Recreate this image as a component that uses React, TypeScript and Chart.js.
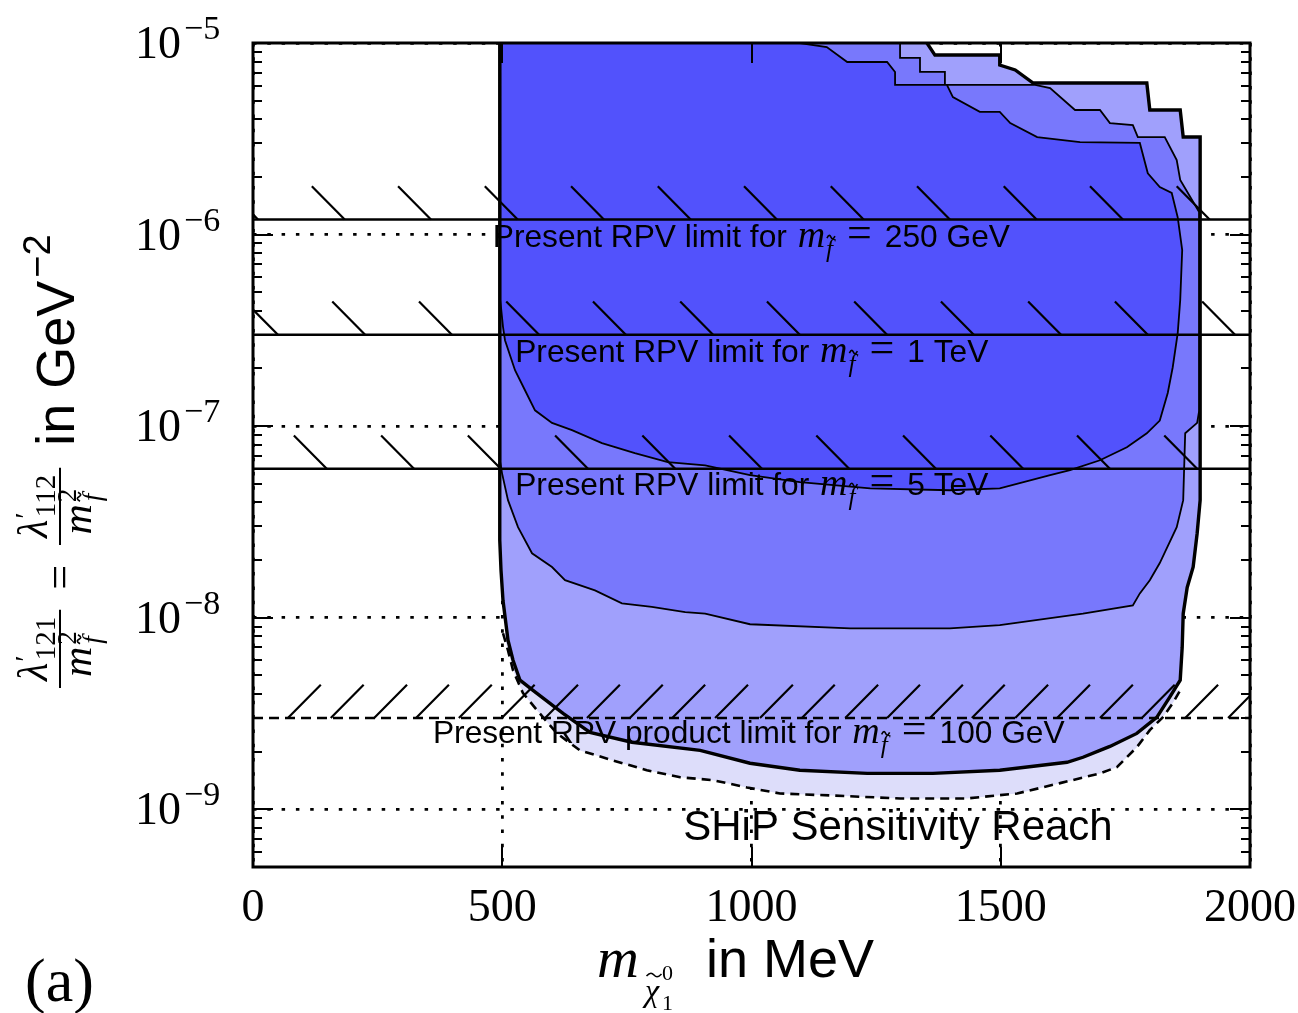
import React, { useEffect, useRef } from 'react';
import { Chart, registerables } from 'chart.js';

Chart.register(...registerables);

// ---------- axes ----------
const X_MIN = 0;
const X_MAX = 2000;
const Y_MIN = 5e-10;
const Y_MAX = 1e-5;
const X_TICKS = [0, 500, 1000, 1500, 2000];
const Y_TICKS = [1e-9, 1e-8, 1e-7, 1e-6, 1e-5];
const Y_TICK_EXP = ['\u22129', '\u22128', '\u22127', '\u22126', '\u22125'];

// ---------- sensitivity contours [m (MeV), lambda/m^2 (GeV^-2)] ----------
// outermost dashed contour (palest band)
const DASHED_EDGE: [number, number][] = [
  [501.5, 8.3e-9], [511.5, 6.76e-9], [521.6, 5.32e-9], [541.6, 4.04e-9], [569.7, 3.29e-9],
  [609.8, 2.49e-9], [656, 2.03e-9], [722, 1.8e-9], [790, 1.6e-9], [857, 1.47e-9],
  [923, 1.42e-9], [991, 1.3e-9], [1057, 1.21e-9], [1163, 1.18e-9], [1298, 1.14e-9],
  [1432, 1.14e-9], [1533, 1.21e-9], [1619, 1.37e-9], [1699, 1.54e-9], [1733, 1.66e-9],
  [1773, 2.11e-9], [1799, 2.59e-9], [1825, 3.02e-9], [1845, 3.58e-9], [1860, 4.18e-9],
];

// thick solid contour (light band)
const OUTER_EDGE: [number, number][] = [
  [495, 1e-5], [495, 2.54e-8], [497.5, 1.77e-8], [501.5, 1.23e-8], [511.5, 7.64e-9],
  [521.6, 6.0e-9], [535.6, 4.72e-9], [561.7, 4.18e-9], [621.9, 3.17e-9], [676, 2.52e-9],
  [760, 2.24e-9], [897, 2.03e-9], [997, 1.74e-9], [1097, 1.6e-9], [1232, 1.54e-9],
  [1364, 1.54e-9], [1498, 1.6e-9], [1633, 1.76e-9], [1665, 1.87e-9], [1699, 2.03e-9],
  [1719, 2.13e-9], [1773, 2.49e-9], [1813, 3.02e-9], [1839, 3.85e-9], [1860, 4.72e-9],
  [1864, 7.02e-9], [1866, 1.05e-8], [1874, 1.44e-8], [1886, 1.84e-8], [1894, 2.76e-8],
  [1900, 4.11e-8], [1900, 3.23e-6], [1866, 3.23e-6], [1860, 4.47e-6], [1799, 4.47e-6],
  [1793, 6.18e-6], [1565, 6.18e-6], [1529, 7.23e-6], [1498, 7.67e-6], [1498, 8.65e-6],
  [1368, 8.65e-6], [1352, 1e-5],
];

// middle contour (medium band)
const MIDDLE_EDGE: [number, number][] = [
  [496, 1e-5], [496, 6.5e-8], [499.5, 5.69e-8], [511.5, 4.11e-8], [531.6, 2.97e-8],
  [559.7, 2.17e-8], [599.8, 1.84e-8], [625.9, 1.57e-8], [686, 1.39e-8], [740, 1.19e-8],
  [800, 1.14e-8], [867, 1.07e-8], [907, 1.05e-8], [997, 9.25e-9], [1198, 8.81e-9],
  [1398, 8.81e-9], [1498, 9.14e-9], [1665, 1.05e-8], [1765, 1.16e-8], [1779, 1.34e-8],
  [1799, 1.57e-8], [1819, 1.93e-8], [1853, 2.97e-8], [1866, 4.11e-8], [1870, 9.18e-8],
  [1894, 1.04e-7], [1898, 1.2e-7], [1898, 1.31e-6], [1860, 1.93e-6], [1853, 2.45e-6],
  [1829, 3.23e-6], [1775, 3.23e-6], [1765, 3.73e-6], [1719, 3.82e-6], [1699, 4.47e-6],
  [1649, 4.47e-6], [1599, 5.82e-6], [1569, 6.04e-6], [1388, 6.04e-6], [1388, 7.06e-6],
  [1338, 7.06e-6], [1338, 8.36e-6], [1298, 8.36e-6], [1298, 1e-5],
];

// inner contour (dark band)
const INNER_EDGE: [number, number][] = [
  [496, 1e-5], [496, 4.55e-7], [501.5, 3.3e-7], [505.5, 2.81e-7], [525.6, 1.96e-7],
  [545.6, 1.54e-7], [565.7, 1.21e-7], [599.8, 1.04e-7], [639.9, 9.53e-8], [700, 8.15e-8],
  [766, 7.23e-8], [832, 6.49e-8], [907, 6.25e-8], [997, 5.55e-8], [1097, 5.1e-8],
  [1238, 4.74e-8], [1398, 4.63e-8], [1498, 4.74e-8], [1599, 5.55e-8], [1639, 5.89e-8],
  [1699, 6.64e-8], [1753, 7.76e-8], [1793, 9.18e-8], [1819, 1.07e-7], [1835, 1.49e-7],
  [1845, 2.03e-7], [1855, 3.06e-7], [1860, 4.55e-7], [1864, 8.3e-7], [1855, 1.23e-6],
  [1843, 1.65e-6], [1819, 1.77e-6], [1795, 2.09e-6], [1779, 3.01e-6], [1659, 3.04e-6],
  [1573, 3.23e-6], [1519, 3.82e-6], [1498, 4.37e-6], [1458, 4.37e-6], [1404, 5.22e-6],
  [1392, 6.04e-6], [1288, 6.04e-6], [1288, 7.06e-6], [1272, 7.96e-6], [1192, 7.96e-6],
  [1151, 9.53e-6], [1097, 1e-5],
];

// ---------- present limits ----------
const LIMIT_250GEV = 1.2e-6;
const LIMIT_1TEV = 3.0e-7;
const LIMIT_5TEV = 6.0e-8;
const LIMIT_PRODUCT_100GEV = 3.0e-9;

// x positions (MeV) where hatch strokes touch each limit line
const HATCH_250GEV = [10, 184, 357, 531, 704, 878, 1051, 1225, 1398, 1572, 1745, 1919];
const HATCH_1TEV = [50, 225, 399, 574, 748, 923, 1097, 1272, 1446, 1621, 1795, 1970];
const HATCH_5TEV = [148, 323, 497, 672, 847, 1021, 1196, 1370, 1545, 1719, 1894];
const HATCH_PRODUCT = [70, 156, 243, 327, 413, 499, 586, 670, 756, 841, 927, 1017, 1101, 1188,
  1272, 1358, 1442, 1529, 1613, 1699, 1783, 1870, 1956];

// ---------- annotations ----------
const ANNOT_PREFIX = ['Present RPV limit for ', 'Present RPV limit for ', 'Present RPV limit for ',
  'Present RPV product limit for '];
const ANNOT_SUFFIX = ['250 GeV', '1 TeV', '5 TeV', '100 GeV'];
const ANNOT_X = [481, 526, 526, 361];
const ANNOT_Y = [8.6e-7, 2.16e-7, 4.37e-8, 2.21e-9];
const SHIP_TEXT = 'SHiP Sensitivity Reach';
const SHIP_X = 863;
const SHIP_Y = 6.9e-10;

// ---------- style ----------
const COL_PALEST = 'rgb(221,221,250)';
const COL_LIGHT = 'rgb(160,160,252)';
const COL_MEDIUM = 'rgb(120,120,252)';
const COL_DARK = 'rgb(82,82,252)';
const SANS = '"Liberation Sans", Arial, Helvetica, sans-serif';
const SERIF = '"Liberation Serif", "Times New Roman", serif';
const HATCH_DX = 66; // MeV
const HATCH_FY = 1.49; // factor in y
const GRID_DASH = [3.5, 10.8];

const sans = (s: number) => `${s}px ${SANS}`;
const serif = (s: number) => `${s}px ${SERIF}`;
const serifI = (s: number) => `italic ${s}px ${SERIF}`;

type Part = { t: string; f: string; dy?: number; dx?: number; adv?: boolean };

function rich(ctx: CanvasRenderingContext2D, x: number, y: number, parts: Part[]) {
  let cx = x;
  for (const p of parts) {
    ctx.font = p.f;
    ctx.fillText(p.t, cx + (p.dx || 0), y + (p.dy || 0));
    if (p.adv !== false) cx += ctx.measureText(p.t).width + (p.dx || 0);
  }
  return cx;
}

function width(ctx: CanvasRenderingContext2D, parts: Part[]) {
  let w = 0;
  for (const p of parts) {
    ctx.font = p.f;
    if (p.adv !== false) w += ctx.measureText(p.t).width + (p.dx || 0);
  }
  return w;
}

// small tilde drawn above a glyph (centre cx, vertical position y)
function tilde(ctx: CanvasRenderingContext2D, cx: number, y: number, w: number) {
  ctx.save();
  ctx.lineWidth = 1.6;
  ctx.beginPath();
  ctx.moveTo(cx - w / 2, y + 1);
  ctx.bezierCurveTo(cx - w / 4, y - 3, cx - w / 8, y - 2, cx, y);
  ctx.bezierCurveTo(cx + w / 8, y + 2, cx + w / 4, y + 3, cx + w / 2, y - 1);
  ctx.stroke();
  ctx.restore();
}

// m with subscript f-tilde, returns end x
function mSubF(ctx: CanvasRenderingContext2D, x: number, y: number, mSize: number, sSize: number) {
  ctx.font = serifI(mSize);
  ctx.fillText('m', x, y);
  const mw = ctx.measureText('m').width;
  const sx = x + mw + 1;
  const sy = y + sSize * 0.4;
  ctx.font = serifI(sSize);
  ctx.fillText('f', sx, sy);
  const fw = ctx.measureText('f').width;
  tilde(ctx, sx + fw * 0.7, sy - sSize * 0.8, Math.max(fw, 8));
  return sx + fw + 2;
}

function drawFraction(ctx: CanvasRenderingContext2D, u: number, sub: string) {
  const num: Part[] = [
    { t: '\u03bb', f: serifI(42) },
    { t: '\u2032', f: serif(30), dy: -12, dx: 1 },
    { t: sub, f: serif(29), dy: 8, dx: -5 },
  ];
  const wn = width(ctx, num);
  ctx.font = serifI(42);
  const mW = ctx.measureText('m').width;
  const wd = mW + 26;
  const w = Math.max(wn, wd) + 14;
  rich(ctx, u + (w - wn) / 2, -27, num);
  ctx.lineWidth = 2;
  ctx.beginPath();
  ctx.moveTo(u, -14);
  ctx.lineTo(u + w, -14);
  ctx.stroke();
  const dx0 = u + (w - wd) / 2;
  ctx.font = serifI(42);
  ctx.fillText('m', dx0, 17);
  ctx.font = serif(27);
  ctx.fillText('2', dx0 + mW + 2, 2);
  ctx.font = serifI(27);
  ctx.fillText('f', dx0 + mW + 3, 27);
  const fw = ctx.measureText('f').width;
  tilde(ctx, dx0 + mW + 3 + fw * 0.6, 27 - 22, Math.max(fw, 9));
  return u + w;
}

const decorPlugin = {
  id: 'decor',
  afterDraw(chart: any) {
    const { ctx, chartArea: a, scales } = chart;
    const xs = scales.x;
    const ys = scales.y;
    ctx.save();
    ctx.strokeStyle = '#000';
    ctx.fillStyle = '#000';

    // inner minor/major ticks
    ctx.lineWidth = 2;
    const seg = (x1: number, y1: number, x2: number, y2: number) => {
      ctx.beginPath();
      ctx.moveTo(x1, y1);
      ctx.lineTo(x2, y2);
      ctx.stroke();
    };
    for (let e = -10; e <= -5; e++) {
      for (let m = 1; m <= 9; m++) {
        const v = m * Math.pow(10, e);
        if (v < Y_MIN * 0.999 || v > Y_MAX * 1.001) continue;
        const py = Math.round(ys.getPixelForValue(v));
        const len = m === 1 ? 20 : 9;
        seg(a.left, py, a.left + len, py);
        seg(a.right, py, a.right - len, py);
      }
    }
    for (const xv of X_TICKS) {
      const px = Math.round(xs.getPixelForValue(xv));
      seg(px, a.bottom, px, a.bottom - 20);
      seg(px, a.top, px, a.top + 20);
    }

    // frame
    ctx.lineWidth = 3;
    ctx.strokeRect(a.left, a.top, a.right - a.left, a.bottom - a.top);

    // y tick labels 10^n
    ctx.textBaseline = 'alphabetic';
    ctx.textAlign = 'left';
    Y_TICKS.forEach((v, i) => {
      const py = ys.getPixelForValue(v);
      ctx.font = serif(46);
      const w10 = ctx.measureText('10').width;
      ctx.fillText('10', 181 - w10, py + 15);
      ctx.font = serif(34);
      ctx.fillText(Y_TICK_EXP[i], 184, py - 4);
    });

    // annotation labels
    ANNOT_PREFIX.forEach((pre, i) => {
      const px = xs.getPixelForValue(ANNOT_X[i]);
      const py = ys.getPixelForValue(ANNOT_Y[i]);
      let cx = rich(ctx, px, py, [{ t: pre, f: sans(31.7) }]);
      cx = mSubF(ctx, cx + 2, py, 38, 25);
      cx = rich(ctx, cx + 12, py, [{ t: '=', f: serif(44) }]);
      rich(ctx, cx + 13, py, [{ t: ANNOT_SUFFIX[i], f: sans(31.7) }]);
    });
    ctx.font = sans(42);
    ctx.fillText(SHIP_TEXT, xs.getPixelForValue(SHIP_X), ys.getPixelForValue(SHIP_Y));

    // x axis title
    rich(ctx, 597, 977, [{ t: 'm', f: serifI(58) }]);
    ctx.font = serifI(32);
    ctx.fillText('\u03c7', 645, 1001);
    tilde(ctx, 654, 975, 15);
    rich(ctx, 662, 980, [{ t: '0', f: serif(22) }]);
    rich(ctx, 662, 1010, [{ t: '1', f: serif(22) }]);
    rich(ctx, 706, 977, [{ t: 'in MeV', f: sans(54) }]);

    // (a)
    rich(ctx, 25, 1001, [{ t: '(a)', f: serif(62) }]);

    // y axis title (rotated)
    ctx.save();
    ctx.translate(74, 688);
    ctx.rotate(-Math.PI / 2);
    let u = drawFraction(ctx, 0, '121');
    u += 20;
    ctx.font = serif(44);
    ctx.fillText('=', u, 0);
    u += ctx.measureText('=').width + 20;
    u = drawFraction(ctx, u, '112');
    u += 22;
    u = rich(ctx, u, 0, [{ t: 'in GeV', f: sans(54) }]);
    rich(ctx, u + 3, -24, [{ t: '\u22122', f: sans(38) }]);
    ctx.restore();

    ctx.restore();
  },
};

const pts = (arr: [number, number][]) => arr.map(([x, y]) => ({ x, y }));

function hatchBack(xsArr: number[], v: number) {
  const out: any[] = [];
  xsArr.forEach((xe) => {
    out.push({ x: xe - HATCH_DX, y: v * HATCH_FY }, { x: xe, y: v }, { x: xe, y: null });
  });
  return out;
}
function hatchFwd(xsArr: number[], v: number) {
  const out: any[] = [];
  xsArr.forEach((xs0) => {
    out.push({ x: xs0, y: v }, { x: xs0 + HATCH_DX, y: v * HATCH_FY }, { x: xs0, y: null });
  });
  return out;
}

const NONE = 'rgba(0,0,0,0)';

export default function App() {
  const ref = useRef<HTMLCanvasElement | null>(null);
  useEffect(() => {
    if (!ref.current) return;
    const limitLine = (v: number, label: string, dash: number[] = []) => ({
      label,
      data: [{ x: X_MIN, y: v }, { x: X_MAX, y: v }],
      borderColor: '#000',
      borderWidth: 2.5,
      borderDash: dash,
      fill: false,
      order: 4,
    });
    const hatch = (data: any[], label: string) => ({
      label,
      data,
      borderColor: '#000',
      borderWidth: 2.2,
      fill: false,
      spanGaps: false,
      order: 3,
    });
    const chart = new Chart(ref.current, {
      type: 'line',
      data: {
        datasets: [
          { label: 'reach (outer dashed)', data: pts(DASHED_EDGE), fill: 'shape', backgroundColor: COL_PALEST, borderColor: NONE, borderWidth: 0, order: 10 },
          { label: 'reach (outer)', data: pts(OUTER_EDGE), fill: 'shape', backgroundColor: COL_LIGHT, borderColor: NONE, borderWidth: 0, order: 9 },
          { label: 'reach (middle)', data: pts(MIDDLE_EDGE), fill: 'shape', backgroundColor: COL_MEDIUM, borderColor: '#000', borderWidth: 1.8, order: 8 },
          { label: 'reach (inner)', data: pts(INNER_EDGE), fill: 'shape', backgroundColor: COL_DARK, borderColor: '#000', borderWidth: 1.8, order: 7 },
          { label: 'dashed edge', data: pts(DASHED_EDGE), fill: false, borderColor: '#000', borderWidth: 2.6, borderDash: [9, 6], order: 6 },
          { label: 'outer edge', data: pts(OUTER_EDGE), fill: false, borderColor: '#000', borderWidth: 3.4, order: 5 },
          limitLine(LIMIT_250GEV, '250 GeV'),
          limitLine(LIMIT_1TEV, '1 TeV'),
          limitLine(LIMIT_5TEV, '5 TeV'),
          limitLine(LIMIT_PRODUCT_100GEV, 'product 100 GeV', [10, 6]),
          hatch(hatchBack(HATCH_250GEV, LIMIT_250GEV), 'h250'),
          hatch(hatchBack(HATCH_1TEV, LIMIT_1TEV), 'h1'),
          hatch(hatchBack(HATCH_5TEV, LIMIT_5TEV), 'h5'),
          hatch(hatchFwd(HATCH_PRODUCT, LIMIT_PRODUCT_100GEV), 'hp'),
        ] as any,
      },
      options: {
        animation: false,
        responsive: false,
        devicePixelRatio: 1,
        events: [],
        layout: { padding: { top: 43, right: 48, left: 0, bottom: 0 } },
        elements: { point: { radius: 0 }, line: { tension: 0 } },
        plugins: {
          legend: { display: false },
          tooltip: { enabled: false },
          title: { display: false },
        },
        scales: {
          x: {
            type: 'linear',
            min: X_MIN,
            max: X_MAX,
            z: 1,
            afterFit: (s: any) => { s.height = 146; s.paddingLeft = 0; s.paddingRight = 0; },
            afterBuildTicks: (s: any) => { s.ticks = X_TICKS.map((v) => ({ value: v })); },
            ticks: {
              autoSkip: false,
              maxRotation: 0,
              padding: 14,
              color: '#000',
              font: { family: SERIF, size: 46 },
              callback: (v: any) => String(v),
            },
            grid: { color: '#000', lineWidth: 2.8, drawTicks: false, borderDash: GRID_DASH } as any,
            border: { display: false, dash: GRID_DASH },
          },
          y: {
            type: 'logarithmic',
            min: Y_MIN,
            max: Y_MAX,
            z: 1,
            afterFit: (s: any) => { s.width = 253; s.paddingTop = 0; s.paddingBottom = 0; },
            afterBuildTicks: (s: any) => { s.ticks = Y_TICKS.map((v) => ({ value: v })); },
            ticks: { display: false },
            grid: { color: '#000', lineWidth: 2.8, drawTicks: false, borderDash: GRID_DASH } as any,
            border: { display: false, dash: GRID_DASH },
          },
        } as any,
      },
      plugins: [decorPlugin],
    } as any);
    return () => chart.destroy();
  }, []);
  return (
    <div style={{ position: 'absolute', left: 0, top: 0, width: 1298, height: 1013, background: '#fff' }}>
      <canvas ref={ref} width={1298} height={1013} style={{ display: 'block' }} />
    </div>
  );
}
